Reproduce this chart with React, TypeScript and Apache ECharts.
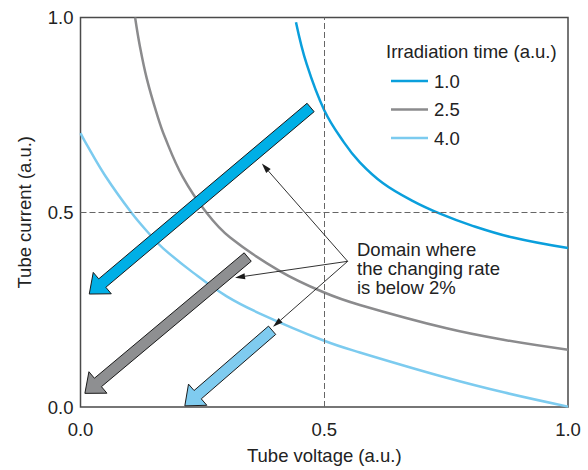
import React, { useEffect, useRef } from "react";
import * as echarts from "echarts";

// Curves: [tube voltage, tube current]
const curve10: number[][] = [[0.442, 0.988], [0.464, 0.88], [0.5, 0.762], [0.54, 0.68], [0.573, 0.628], [0.62, 0.575], [0.68, 0.53], [0.74, 0.495], [0.8, 0.467], [0.887, 0.435], [1.0, 0.408]];
const curve25: number[][] = [[0.112, 1.0], [0.122, 0.925], [0.136, 0.843], [0.156, 0.755], [0.173, 0.693], [0.21, 0.59], [0.259, 0.498], [0.307, 0.435], [0.409, 0.349], [0.5, 0.294], [0.573, 0.262], [0.751, 0.202], [0.87, 0.172], [1.0, 0.147]];
const curve40: number[][] = [[0.0, 0.703], [0.009, 0.682], [0.05, 0.595], [0.105, 0.498], [0.143, 0.442], [0.169, 0.408], [0.231, 0.345], [0.3, 0.284], [0.368, 0.24], [0.5, 0.17], [0.573, 0.14], [0.751, 0.075], [0.87, 0.037], [1.0, 0.001]];
const seriesNames = ["1.0", "2.5", "4.0"];

// Thick arrows: tail (x,y) -> tip (x,y)
const arrowTails: number[][] = [[0.472, 0.769], [0.343, 0.385], [0.393, 0.197]];
const arrowTips: number[][] = [[0.018, 0.29], [0.009, 0.035], [0.214, 0.003]];

// Annotation pointers
const pointerOrigin: number[] = [0.548, 0.374];
const pointerTargets: number[][] = [[0.372, 0.625], [0.317, 0.332], [0.395, 0.206]];

const axisTicks = [0, 0.5, 1];
const refValue = 0.5;

const curveColors = ["#0a9fdc", "#8b8b8d", "#7ccbef"];
const arrowColors = ["#00afe6", "#8e8f91", "#7fcbef"];
const FONT = "'Liberation Sans', Arial, Helvetica, sans-serif";
const FS = 18.5;

export default function App() {
  const ref = useRef<HTMLDivElement>(null);
  useEffect(() => {
    if (!ref.current) return;
    const chart = echarts.init(ref.current, null, { renderer: "svg" });

    const arrowData = arrowTails.map((t, i) => [t[0], t[1], arrowTips[i][0], arrowTips[i][1]]);
    const pointerData = pointerTargets.map((p) => [pointerOrigin[0], pointerOrigin[1], p[0], p[1]]);

    const curves = [curve10, curve25, curve40];

    const option: any = {
      animation: false,
      textStyle: { fontFamily: FONT },
      grid: { left: 80.5, right: 20, top: 17.5, bottom: 57, show: true, borderColor: "#4a4a4a", borderWidth: 1.5, backgroundColor: "transparent" },
      xAxis: {
        type: "value", min: axisTicks[0], max: axisTicks[2], interval: 0.5,
        name: "Tube voltage (a.u.)", nameLocation: "middle", nameGap: 39,
        nameTextStyle: { fontSize: FS, color: "#222", fontFamily: FONT },
        axisLine: { show: false }, axisTick: { show: false }, splitLine: { show: false },
        axisLabel: { fontSize: FS, color: "#222", margin: 13, fontFamily: FONT, formatter: (v: number) => v.toFixed(1) },
      },
      yAxis: {
        type: "value", min: axisTicks[0], max: axisTicks[2], interval: 0.5,
        name: "Tube current (a.u.)", nameLocation: "middle", nameGap: 47,
        nameTextStyle: { fontSize: FS, color: "#222", fontFamily: FONT },
        axisLine: { show: false }, axisTick: { show: false }, splitLine: { show: false },
        axisLabel: { fontSize: FS, color: "#222", margin: 7, fontFamily: FONT, formatter: (v: number) => v.toFixed(1) },
      },
      legend: {
        data: seriesNames, orient: "vertical", left: 386, top: 66,
        icon: "rect", itemWidth: 37, itemHeight: 2.5, itemGap: 8.5,
        textStyle: { fontSize: FS, lineHeight: 20, color: "#222", fontFamily: FONT, padding: [0, 0, 0, 1] },
      },
      graphic: [
        { type: "text", left: 386, top: 41.5, style: { text: "Irradiation time (a.u.)", fontSize: FS, fill: "#222", fontFamily: FONT } },
        { type: "text", left: 357, top: 240, style: { text: "Domain where\nthe changing rate\nis below 2%", fontSize: FS, lineHeight: 19, fill: "#222", fontFamily: FONT } },
      ],
      series: [
        ...curves.map((d, i) => ({
          type: "line", name: seriesNames[i], data: d, showSymbol: false, symbol: "none",
          smooth: 0.4, clip: true,
          lineStyle: { color: curveColors[i], width: 2.5 }, itemStyle: { color: curveColors[i] },
          z: 2,
          markLine: i === 0 ? {
            silent: true, symbol: "none", label: { show: false },
            lineStyle: { color: "#666", type: [6, 3], width: 1 },
            data: [{ xAxis: refValue }, { yAxis: refValue }],
          } : undefined,
        })),
        {
          type: "custom", name: "arrows", data: arrowData, z: 5, clip: false,
          encode: { x: [0, 2], y: [1, 3] },
          renderItem: (params: any, api: any) => {
            const i = params.dataIndex;
            const p0 = api.coord([api.value(0), api.value(1)]);
            const p1 = api.coord([api.value(2), api.value(3)]);
            const dx = p1[0] - p0[0], dy = p1[1] - p0[1];
            const L = Math.sqrt(dx * dx + dy * dy);
            const ux = dx / L, uy = dy / L;
            const px = -uy, py = ux;
            const sw = 5.5, hw = 14, hl = 17;
            const nx = p1[0] - ux * hl, ny = p1[1] - uy * hl;
            const pts = [
              [p0[0] + px * sw, p0[1] + py * sw],
              [nx + px * sw, ny + py * sw],
              [nx + px * hw, ny + py * hw],
              [p1[0], p1[1]],
              [nx - px * hw, ny - py * hw],
              [nx - px * sw, ny - py * sw],
              [p0[0] - px * sw, p0[1] - py * sw],
            ];
            return { type: "polygon", shape: { points: pts }, style: { fill: arrowColors[i], stroke: "#1a1a1a", lineWidth: 1 } };
          },
        },
        {
          type: "custom", name: "pointers", data: pointerData, z: 6, clip: false,
          encode: { x: [0, 2], y: [1, 3] },
          renderItem: (params: any, api: any) => {
            const p0 = api.coord([api.value(0), api.value(1)]);
            const p1 = api.coord([api.value(2), api.value(3)]);
            const dx = p1[0] - p0[0], dy = p1[1] - p0[1];
            const L = Math.sqrt(dx * dx + dy * dy);
            const ux = dx / L, uy = dy / L;
            const px = -uy, py = ux;
            const hl = 10, hw = 3;
            const bx = p1[0] - ux * hl, by = p1[1] - uy * hl;
            return {
              type: "group",
              children: [
                { type: "line", shape: { x1: p0[0], y1: p0[1], x2: bx, y2: by }, style: { stroke: "#1a1a1a", lineWidth: 0.9 } },
                { type: "polygon", shape: { points: [[p1[0], p1[1]], [bx + px * hw, by + py * hw], [bx - px * hw, by - py * hw]] }, style: { fill: "#1a1a1a" } },
              ],
            };
          },
        },
      ],
    };
    chart.setOption(option);
    return () => chart.dispose();
  }, []);
  return <div ref={ref} style={{ width: 588, height: 470, position: "absolute", left: 0, top: 0 }} />;
}
